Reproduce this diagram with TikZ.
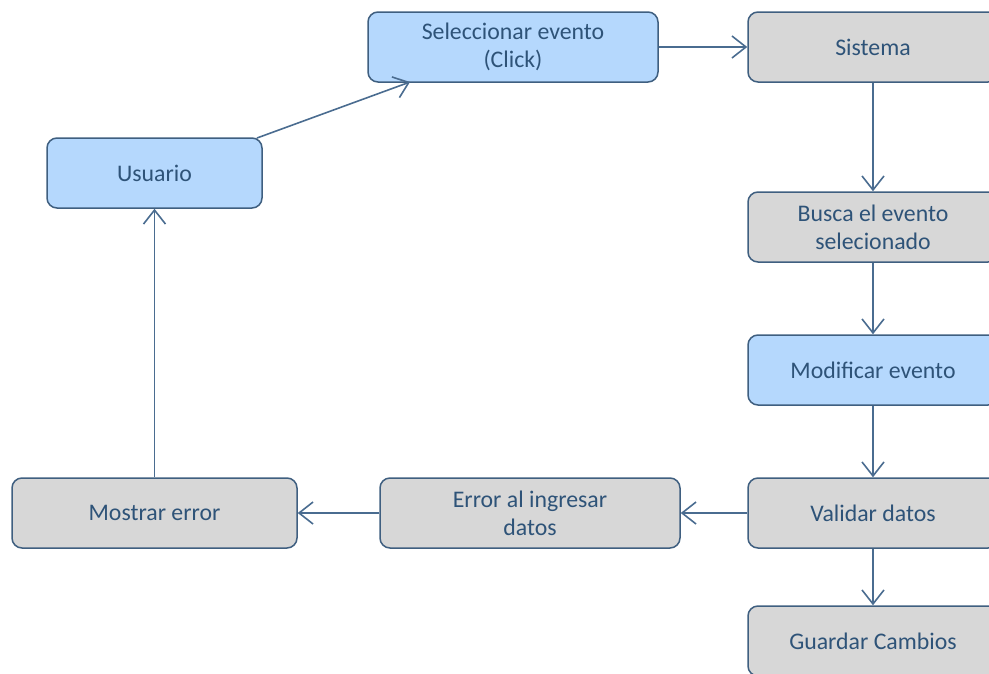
\documentclass[tikz,border=0pt]{standalone}
\usepackage{fontspec}
\setmainfont{Carlito}
\usetikzlibrary{arrows.meta}
\definecolor{bluefill}{HTML}{B5D8FD}
\definecolor{grayfill}{HTML}{D7D7D7}
\definecolor{edge}{HTML}{3F5F80}
\definecolor{txt}{HTML}{2E5378}
\definecolor{conn}{HTML}{4A6C90}
\begin{document}
\begin{tikzpicture}[x=1pt,y=-1pt,
  box/.style={draw=edge, line width=1.5pt, rounded corners=10pt, text=txt,
    align=center, inner sep=0pt, font=\fontsize{23.8}{28}\selectfont},
  bluebox/.style={box, fill=bluefill},
  graybox/.style={box, fill=grayfill},
  conn/.style={draw=conn, line width=1.6pt, -{Straight Barb[length=14pt,width=22pt,line width=1.6pt]}}]
\useasboundingbox (0,0) rectangle (989,673);
\node[bluebox, minimum width=290pt, minimum height=70pt] (sel) at (513,47) {Seleccionar evento\\(Click)};
\node[graybox, minimum width=250pt, minimum height=70pt] (sis) at (873,47) {Sistema};
\node[bluebox, minimum width=215pt, minimum height=70pt] (usu) at (154.5,173) {Usuario};
\node[graybox, minimum width=250pt, minimum height=70pt] (bus) at (873,227) {Busca el evento\\selecionado};
\node[bluebox, minimum width=250pt, minimum height=70pt] (mod) at (873,370) {Modificar evento};
\node[graybox, minimum width=250pt, minimum height=70pt] (val) at (873,513) {Validar datos};
\node[graybox, minimum width=250pt, minimum height=70pt] (gua) at (873,641) {Guardar Cambios};
\node[graybox, minimum width=300pt, minimum height=70pt] (err) at (530,513) {Error al ingresar\\datos};
\node[graybox, minimum width=285pt, minimum height=70pt] (mos) at (154.5,513) {Mostrar error};
\coordinate (usuA) at (257,138);
\coordinate (selA) at (410,82);
\draw[conn] (usuA) -- (selA);
\draw[conn] (sel) -- (sis);
\draw[conn] (sis) -- (bus);
\draw[conn] (bus) -- (mod);
\draw[conn] (mod) -- (val);
\draw[conn] (val) -- (err);
\draw[conn] (err) -- (mos);
\draw[conn] (mos) -- (usu);
\draw[conn] (val) -- (gua);
\end{tikzpicture}
\end{document}
